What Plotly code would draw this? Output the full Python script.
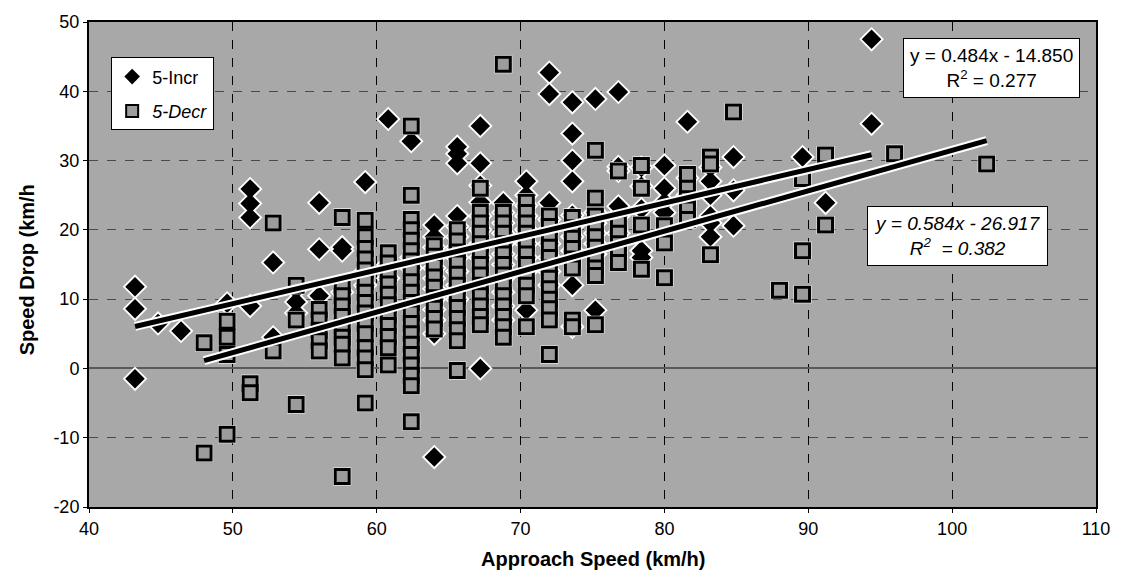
import plotly.graph_objects as go

# ---- data: 5-Incr (diamonds), grouped by approach-speed column ----
incr_cols = [43.2, 44.8, 46.4, 49.6, 51.2, 52.8, 54.4, 56.0, 57.6, 59.2, 60.8, 62.4,
             64.0, 65.6, 67.2, 68.8, 70.4, 72.0, 73.6, 75.2, 76.8, 78.4, 80.0, 81.6,
             83.2, 84.8, 89.6, 91.2, 94.4]
incr_vals = [
    [11.8, 8.6, -1.5],
    [6.5],
    [5.4],
    [9.4],
    [25.9, 23.8, 21.8, 9.0],
    [15.3, 4.5],
    [11.4, 9.6, 8.0],
    [23.9, 17.2, 10.5],
    [17.5, 17.0, 11.0],
    [26.9, 14.0, 12.0],
    [36.0, 15.0, 13.0],
    [32.8, 16.0, 14.5],
    [20.7, 19.0, 17.5, 16.0, 14.5, 13.0, 11.5, 10.0, 8.5, 7.0, 5.0, -12.8],
    [32.0, 31.0, 29.6, 22.0, 20.5, 19.0, 17.5, 16.0, 14.0, 12.0, 10.0],
    [35.0, 29.6, 26.4, 24.0, 22.0, 20.0, 18.0, 16.0, 0.0],
    [23.9, 22.5, 21.0, 19.5, 18.0, 16.5, 15.0, 13.0, 11.0, 9.0, 7.0],
    [27.0, 25.0, 23.5, 22.0, 20.0, 18.0, 16.0, 14.0, 8.4],
    [42.7, 39.6, 23.9, 21.5, 20.0, 18.0, 16.0, 14.0, 12.0],
    [38.4, 33.9, 30.0, 27.0, 22.1, 20.5, 19.0, 17.0, 12.0, 6.0],
    [38.9, 22.5, 21.0, 19.5, 18.0, 16.5, 8.4],
    [39.9, 29.1, 28.5, 23.4, 22.0, 19.5],
    [29.0, 26.3, 23.0, 17.0, 16.0],
    [29.3, 26.0, 24.0, 22.5],
    [35.6, 27.5, 25.0],
    [29.0, 27.0, 25.0, 22.0, 21.0, 19.0],
    [30.5, 25.7, 20.6],
    [30.5],
    [23.9],
    [47.5, 35.3],
]

# ---- data: 5-Decr (squares) ----
decr_cols = [48.0, 49.6, 51.2, 52.8, 54.4, 56.0, 57.6, 59.2, 60.8, 62.4, 64.0, 65.6,
             67.2, 68.8, 70.4, 72.0, 73.6, 75.2, 76.8, 78.4, 80.0, 81.6, 83.2, 84.8,
             88.0, 89.6, 91.2, 96.0, 102.4]
decr_vals = [
    [3.7, -12.2],
    [6.8, 4.5, 2.0, -9.5],
    [-2.2, -3.5],
    [21.0, 2.5],
    [12.0, 7.0, -5.2],
    [8.5, 7.0, 5.5, 4.0, 2.5],
    [21.8, 12.0, 10.5, 9.0, 7.5, 6.0, 4.5, 3.5, 1.5, -15.6],
    [21.4, 19.0, 17.3, 15.8, 14.2, 12.6, 11.0, 9.5, 8.0, 6.5, 5.0, 3.0, 1.5, -0.2, -5.0],
    [16.7, 15.2, 13.7, 12.2, 10.7, 9.2, 7.7, 6.2, 4.6, 3.0, 0.5],
    [35.0, 25.0, 21.5, 20.0, 18.5, 17.0, 15.5, 14.0, 12.5, 11.0, 9.5, 8.0, 6.5, 5.0,
     3.5, 2.0, 0.5, -1.0, -2.5, -7.7],
    [17.7, 16.2, 14.7, 13.2, 11.7, 10.2, 8.7, 7.2, 5.7],
    [20.0, 18.4, 16.8, 15.2, 13.6, 12.0, 10.4, 8.8, 7.2, 5.6, 4.0, -0.3],
    [26.0, 22.5, 21.0, 19.5, 18.0, 16.5, 15.0, 13.5, 12.0, 10.5, 9.0, 7.5, 6.3],
    [43.9, 22.5, 21.0, 19.5, 18.0, 16.5, 15.0, 13.5, 12.0, 10.5, 9.0, 7.5, 6.0, 4.5],
    [24.0, 22.5, 21.0, 19.5, 18.0, 16.5, 15.0, 13.5, 12.0, 10.5, 6.0],
    [22.0, 20.5, 19.0, 17.5, 16.0, 14.5, 13.0, 11.5, 10.0, 8.6, 7.0, 2.0],
    [21.8, 20.3, 18.8, 17.3, 15.8, 14.5, 7.0, 6.0],
    [31.5, 24.6, 22.0, 20.5, 19.0, 17.5, 16.0, 14.5, 13.4, 6.3],
    [28.5, 21.0, 19.5, 18.0, 17.0, 15.3],
    [29.3, 26.0, 20.7, 14.3],
    [20.6, 18.1, 13.1],
    [28.0, 26.0, 24.5, 23.0, 21.5],
    [30.5, 29.5, 16.4],
    [37.0],
    [11.3],
    [27.4, 17.0, 10.7],
    [30.8, 20.7],
    [31.0],
    [29.5],
]

# trendline coefficients (slope, intercept) and labels
incr_fit = [0.484, -14.850]
decr_fit = [0.584, -26.917]
incr_label = "y = 0.484x - 14.850<br>R<sup>2</sup> = 0.277"
decr_label = "<i>y = 0.584x - 26.917<br>R<sup>2</sup>  = 0.382</i>"

x_ticks = [40, 50, 60, 70, 80, 90, 100, 110]
y_ticks = [-20, -10, 0, 10, 20, 30, 40, 50]

# flatten
incr_x = [c for c, v in zip(incr_cols, incr_vals) for _ in v]
incr_y = [y for v in incr_vals for y in v]
decr_x = [c for c, v in zip(decr_cols, decr_vals) for _ in v]
decr_y = [y for v in decr_vals for y in v]

FONT = "Arial, Liberation Sans, sans-serif"

fig = go.Figure()

# halos + markers
fig.add_trace(go.Scatter(x=incr_x, y=incr_y, mode="markers", showlegend=False, hoverinfo="skip",
                         marker=dict(symbol="diamond", size=19, color="white")))
fig.add_trace(go.Scatter(x=incr_x, y=incr_y, mode="markers", name="5-Incr", legendgroup="a",
                         marker=dict(symbol="diamond", size=15, color="black",
                                     line=dict(width=0))))
fig.add_trace(go.Scatter(x=decr_x, y=decr_y, mode="markers", showlegend=False, hoverinfo="skip",
                         marker=dict(symbol="square", size=18, color="white")))
fig.add_trace(go.Scatter(x=decr_x, y=decr_y, mode="markers", name="<i>5-Decr</i>", legendgroup="b",
                         marker=dict(symbol="square", size=14, color="#9c9c9c",
                                     line=dict(width=3, color="black"))))

# trendlines
for cols, fit in ((incr_cols, incr_fit), (decr_cols, decr_fit)):
    xs = [min(cols), max(cols)]
    ys = [fit[0] * v + fit[1] for v in xs]
    fig.add_trace(go.Scatter(x=xs, y=ys, mode="lines", showlegend=False, hoverinfo="skip",
                             line=dict(color="white", width=9)))
    fig.add_trace(go.Scatter(x=xs, y=ys, mode="lines", showlegend=False, hoverinfo="skip",
                             line=dict(color="black", width=5)))

fig.update_layout(
    width=1122, height=576,
    margin=dict(l=89, r=26, t=16, b=69),
    paper_bgcolor="white",
    plot_bgcolor="#a8a8a8",
    font=dict(family=FONT, size=18, color="black"),
    showlegend=True,
    legend=dict(x=0.022, y=0.927, xanchor="left", yanchor="top",
                bgcolor="white", bordercolor="black", borderwidth=1,
                font=dict(size=18), tracegroupgap=8, itemsizing="constant"),
    annotations=[
        dict(text="<b>Approach Speed (km/h)</b>", xref="paper", yref="paper", x=0.5, y=-0.108,
             xanchor="center", yanchor="middle", showarrow=False,
             font=dict(size=20, family=FONT, color="black")),
        dict(text="<b>Speed Drop (km/h</b>", xref="paper", yref="paper", x=-0.0616, y=0.49,
             xanchor="center", yanchor="middle", showarrow=False, textangle=-90,
             font=dict(size=20, family=FONT, color="black")),
        dict(text=incr_label, xref="paper", yref="paper", x=0.8967, y=0.9043,
             xanchor="center", yanchor="middle", showarrow=False, align="center",
             bgcolor="white", bordercolor="black", borderwidth=1, borderpad=6,
             font=dict(size=19, family=FONT, color="black")),
        dict(text=decr_label, xref="paper", yref="paper", x=0.862, y=0.559,
             xanchor="center", yanchor="middle", showarrow=False, align="center",
             bgcolor="white", bordercolor="black", borderwidth=1, borderpad=6,
             font=dict(size=19, family=FONT, color="black")),
    ],
)

fig.update_xaxes(range=[40, 110], tickvals=x_ticks, ticktext=[str(t) for t in x_ticks],
                 showgrid=True, gridcolor="black", gridwidth=1, griddash="dash",
                 showline=True, linecolor="black", linewidth=2, mirror=True,
                 ticks="outside", ticklen=4, tickcolor="black", zeroline=False)
fig.update_yaxes(range=[-20, 50], tickvals=y_ticks, ticktext=[str(t) for t in y_ticks],
                 showgrid=True, gridcolor="#4a4a4a", gridwidth=1, griddash="dash",
                 showline=True, linecolor="black", linewidth=2, mirror=True,
                 ticks="outside", ticklen=4, tickcolor="black",
                 zeroline=True, zerolinecolor="#5a5a5a", zerolinewidth=1.5)

post = ("document.body.style.margin='0';"
        "var gd=document.getElementById('{plot_id}');"
        "gd.style.position='absolute';gd.style.left='0px';gd.style.top='0px';")
fig.write_html("out.html", post_script=post, config={"displayModeBar": False})
